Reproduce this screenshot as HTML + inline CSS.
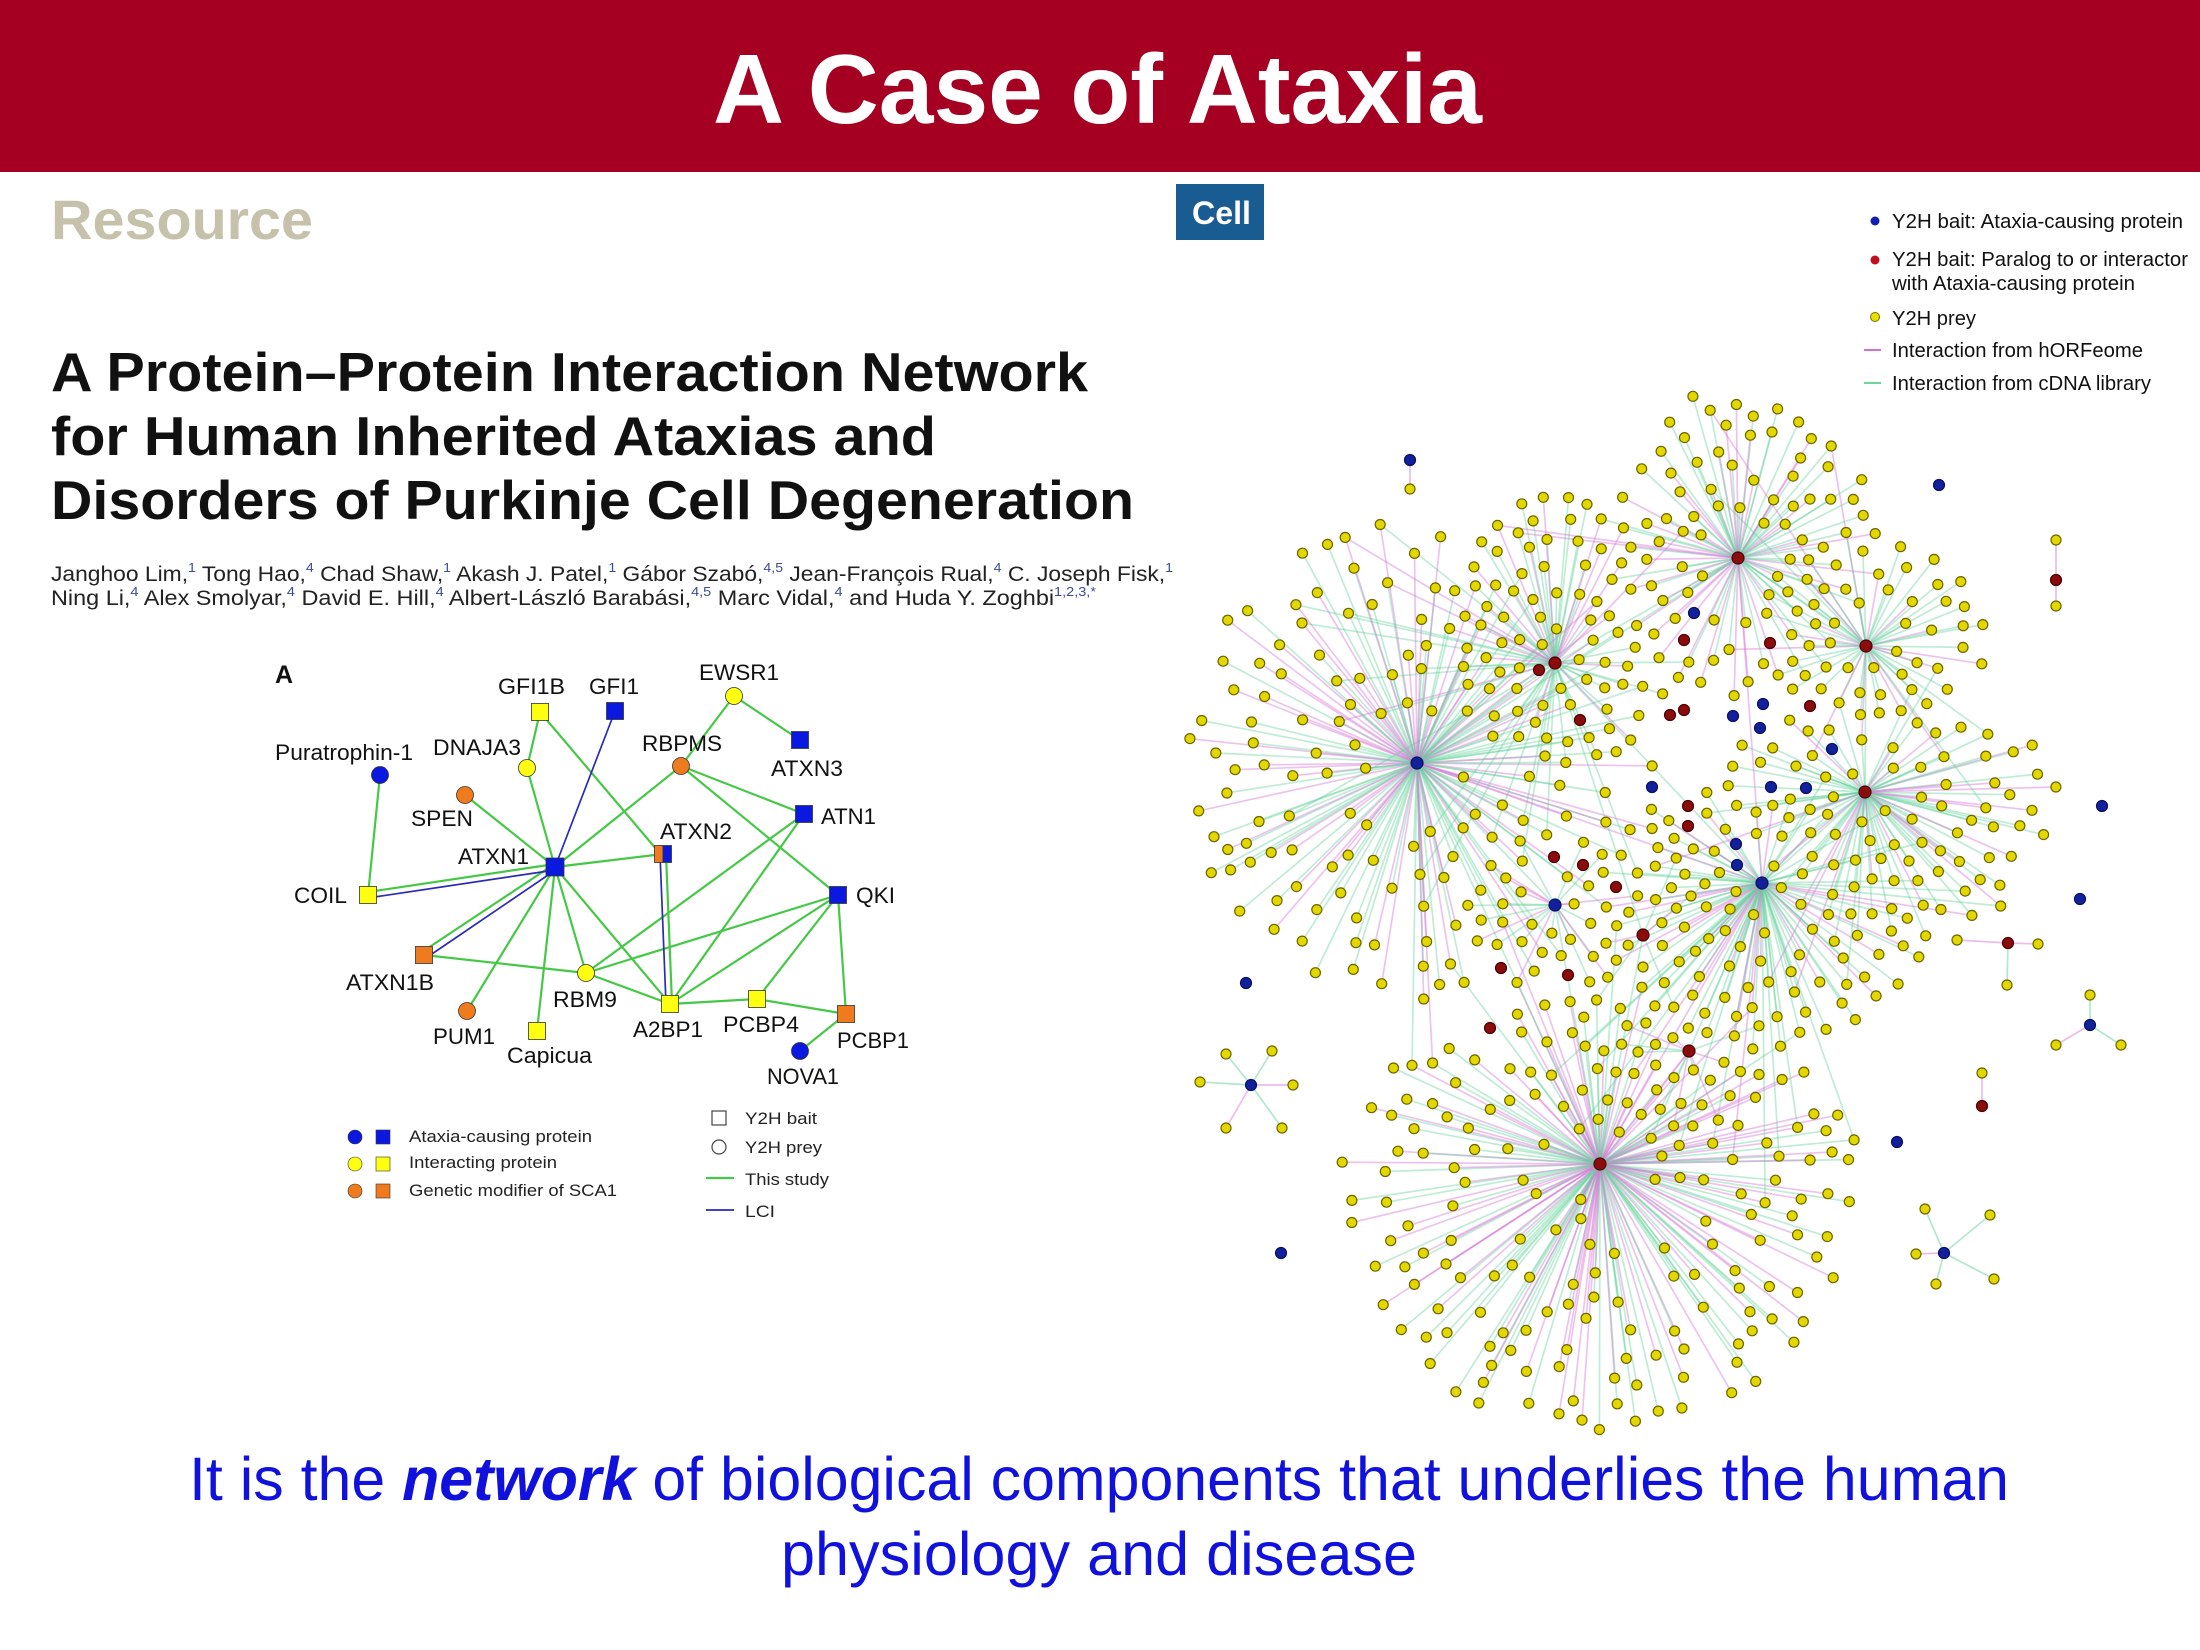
<!DOCTYPE html>
<html>
<head>
<meta charset="utf-8">
<style>
html,body{margin:0;padding:0;background:#fff;}
body{width:2200px;height:1650px;overflow:hidden;}
svg{display:block;}
text{font-family:"Liberation Sans",Arial,sans-serif;}
</style>
</head>
<body>
<svg id="main" width="2200" height="1650" viewBox="0 0 2200 1650" xmlns="http://www.w3.org/2000/svg">
  <rect x="0" y="0" width="2200" height="1650" fill="#ffffff"/>
  <!-- Header -->
  <rect x="0" y="0" width="2200" height="172" fill="#a50021"/>
  <text x="713" y="123" font-size="98" font-weight="bold" fill="#ffffff" textLength="769" lengthAdjust="spacingAndGlyphs">A Case of Ataxia</text>

  <!-- Paper header -->
  <text x="51" y="239" font-size="56" font-weight="bold" fill="#c6c1aa" textLength="262" lengthAdjust="spacingAndGlyphs">Resource</text>
  <rect x="1176" y="184" width="88" height="56" fill="#185c92"/>
  <text x="1192" y="224" font-size="32" font-weight="bold" fill="#ffffff" textLength="59" lengthAdjust="spacingAndGlyphs">Cell</text>

  <text x="51" y="391" font-size="55" font-weight="bold" fill="#111" textLength="1037" lengthAdjust="spacingAndGlyphs">A Protein–Protein Interaction Network</text>
  <text x="51" y="455" font-size="55" font-weight="bold" fill="#111" textLength="885" lengthAdjust="spacingAndGlyphs">for Human Inherited Ataxias and</text>
  <text x="51" y="519" font-size="55" font-weight="bold" fill="#111" textLength="1083" lengthAdjust="spacingAndGlyphs">Disorders of Purkinje Cell Degeneration</text>

  <text x="51" y="581" font-size="21" fill="#222" textLength="1122" lengthAdjust="spacingAndGlyphs">Janghoo Lim,<tspan dy="-9" font-size="13" fill="#3b4a9a">1</tspan><tspan dy="9"> Tong Hao,</tspan><tspan dy="-9" font-size="13" fill="#3b4a9a">4</tspan><tspan dy="9"> Chad Shaw,</tspan><tspan dy="-9" font-size="13" fill="#3b4a9a">1</tspan><tspan dy="9"> Akash J. Patel,</tspan><tspan dy="-9" font-size="13" fill="#3b4a9a">1</tspan><tspan dy="9"> Gábor Szabó,</tspan><tspan dy="-9" font-size="13" fill="#3b4a9a">4,5</tspan><tspan dy="9"> Jean-François Rual,</tspan><tspan dy="-9" font-size="13" fill="#3b4a9a">4</tspan><tspan dy="9"> C. Joseph Fisk,</tspan><tspan dy="-9" font-size="13" fill="#3b4a9a">1</tspan></text>
  <text x="51" y="605" font-size="21" fill="#222" textLength="1045" lengthAdjust="spacingAndGlyphs">Ning Li,<tspan dy="-9" font-size="13" fill="#3b4a9a">4</tspan><tspan dy="9"> Alex Smolyar,</tspan><tspan dy="-9" font-size="13" fill="#3b4a9a">4</tspan><tspan dy="9"> David E. Hill,</tspan><tspan dy="-9" font-size="13" fill="#3b4a9a">4</tspan><tspan dy="9"> Albert-László Barabási,</tspan><tspan dy="-9" font-size="13" fill="#3b4a9a">4,5</tspan><tspan dy="9"> Marc Vidal,</tspan><tspan dy="-9" font-size="13" fill="#3b4a9a">4</tspan><tspan dy="9"> and Huda Y. Zoghbi</tspan><tspan dy="-9" font-size="13" fill="#3b4a9a">1,2,3,*</tspan></text>

  <!-- Figure A -->
  <text x="275" y="683" font-size="25" font-weight="bold" fill="#111">A</text>
  <g stroke="#45c845" stroke-width="2.2" fill="none" stroke-linecap="round">
    <line x1="380" y1="775" x2="368" y2="895"/>
    <line x1="540" y1="712" x2="527" y2="768"/>
    <line x1="527" y1="768" x2="555" y2="867"/>
    <line x1="540" y1="712" x2="657" y2="850"/>
    <line x1="734" y1="696" x2="681" y2="766"/>
    <line x1="734" y1="696" x2="800" y2="740"/>
    <line x1="681" y1="766" x2="555" y2="867"/>
    <line x1="681" y1="766" x2="804" y2="814"/>
    <line x1="681" y1="766" x2="838" y2="895"/>
    <line x1="465" y1="795" x2="555" y2="867"/>
    <line x1="555" y1="867" x2="663" y2="854"/>
    <line x1="555" y1="864" x2="368" y2="892"/>
    <line x1="553" y1="865" x2="422" y2="952"/>
    <line x1="555" y1="867" x2="467" y2="1011"/>
    <line x1="555" y1="867" x2="537" y2="1031"/>
    <line x1="555" y1="867" x2="586" y2="973"/>
    <line x1="555" y1="867" x2="670" y2="1004"/>
    <line x1="666" y1="854" x2="672" y2="1004"/>
    <line x1="804" y1="814" x2="586" y2="973"/>
    <line x1="804" y1="814" x2="670" y2="1004"/>
    <line x1="838" y1="895" x2="586" y2="973"/>
    <line x1="838" y1="895" x2="670" y2="1004"/>
    <line x1="838" y1="895" x2="757" y2="999"/>
    <line x1="838" y1="895" x2="846" y2="1014"/>
    <line x1="424" y1="955" x2="586" y2="973"/>
    <line x1="586" y1="973" x2="670" y2="1004"/>
    <line x1="670" y1="1004" x2="757" y2="999"/>
    <line x1="757" y1="999" x2="846" y2="1014"/>
    <line x1="846" y1="1014" x2="800" y2="1051"/>
  </g>
  <g stroke="#2a2ab8" stroke-width="1.7" fill="none">
    <line x1="615" y1="711" x2="555" y2="867"/>
    <line x1="555" y1="870" x2="368" y2="898"/>
    <line x1="557" y1="869" x2="426" y2="958"/>
    <line x1="660" y1="854" x2="666" y2="1004"/>
  </g>
  <g stroke="#333" stroke-width="0.8">
    <circle cx="380" cy="775" r="8.5" fill="#0b19e0"/>
    <circle cx="734" cy="696" r="8.5" fill="#ffff10"/>
    <circle cx="527" cy="768" r="8.5" fill="#ffff10"/>
    <circle cx="681" cy="766" r="8.5" fill="#f07a1e"/>
    <circle cx="465" cy="795" r="8.5" fill="#f07a1e"/>
    <circle cx="586" cy="973" r="8.5" fill="#ffff10"/>
    <circle cx="467" cy="1011" r="8.5" fill="#f07a1e"/>
    <circle cx="800" cy="1051" r="8.5" fill="#0b19e0"/>
    <rect x="531.5" y="703.5" width="17" height="17" fill="#ffff10"/>
    <rect x="606.5" y="702.5" width="17" height="17" fill="#0b19e0"/>
    <rect x="791.5" y="731.5" width="17" height="17" fill="#0b19e0"/>
    <rect x="795.5" y="805.5" width="17" height="17" fill="#0b19e0"/>
    <rect x="654.5" y="845.5" width="8.5" height="17" fill="#f07a1e"/>
    <rect x="663" y="845.5" width="8.5" height="17" fill="#0b19e0"/>
    <rect x="546" y="858" width="18" height="18" fill="#0b19e0"/>
    <rect x="359.5" y="886.5" width="17" height="17" fill="#ffff10"/>
    <rect x="829.5" y="886.5" width="17" height="17" fill="#0b19e0"/>
    <rect x="415.5" y="946.5" width="17" height="17" fill="#f07a1e"/>
    <rect x="661.5" y="995.5" width="17" height="17" fill="#ffff10"/>
    <rect x="748.5" y="990.5" width="17" height="17" fill="#ffff10"/>
    <rect x="837.5" y="1005.5" width="17" height="17" fill="#f07a1e"/>
    <rect x="528.5" y="1022.5" width="17" height="17" fill="#ffff10"/>
  </g>
  <g font-size="22" fill="#111">
    <text x="498" y="694" textLength="67" lengthAdjust="spacingAndGlyphs">GFI1B</text>
    <text x="589" y="694" textLength="50" lengthAdjust="spacingAndGlyphs">GFI1</text>
    <text x="699" y="680" textLength="80" lengthAdjust="spacingAndGlyphs">EWSR1</text>
    <text x="275" y="760" textLength="138" lengthAdjust="spacingAndGlyphs">Puratrophin-1</text>
    <text x="433" y="755" textLength="88" lengthAdjust="spacingAndGlyphs">DNAJA3</text>
    <text x="642" y="751" textLength="80" lengthAdjust="spacingAndGlyphs">RBPMS</text>
    <text x="771" y="776" textLength="72" lengthAdjust="spacingAndGlyphs">ATXN3</text>
    <text x="411" y="826" textLength="62" lengthAdjust="spacingAndGlyphs">SPEN</text>
    <text x="821" y="824" textLength="55" lengthAdjust="spacingAndGlyphs">ATN1</text>
    <text x="660" y="839" textLength="72" lengthAdjust="spacingAndGlyphs">ATXN2</text>
    <text x="458" y="864" textLength="71" lengthAdjust="spacingAndGlyphs">ATXN1</text>
    <text x="294" y="903" textLength="53" lengthAdjust="spacingAndGlyphs">COIL</text>
    <text x="856" y="903" textLength="39" lengthAdjust="spacingAndGlyphs">QKI</text>
    <text x="346" y="990" textLength="88" lengthAdjust="spacingAndGlyphs">ATXN1B</text>
    <text x="553" y="1007" textLength="64" lengthAdjust="spacingAndGlyphs">RBM9</text>
    <text x="433" y="1044" textLength="62" lengthAdjust="spacingAndGlyphs">PUM1</text>
    <text x="507" y="1063" textLength="85" lengthAdjust="spacingAndGlyphs">Capicua</text>
    <text x="633" y="1037" textLength="70" lengthAdjust="spacingAndGlyphs">A2BP1</text>
    <text x="723" y="1032" textLength="76" lengthAdjust="spacingAndGlyphs">PCBP4</text>
    <text x="837" y="1048" textLength="72" lengthAdjust="spacingAndGlyphs">PCBP1</text>
    <text x="767" y="1084" textLength="72" lengthAdjust="spacingAndGlyphs">NOVA1</text>
  </g>
  <!-- Figure A legend -->
  <g stroke="#333" stroke-width="0.6">
    <circle cx="355" cy="1137" r="7" fill="#0b19e0"/>
    <rect x="376" y="1130" width="14" height="14" fill="#0b19e0"/>
    <circle cx="355" cy="1164" r="7" fill="#ffff10"/>
    <rect x="376" y="1157" width="14" height="14" fill="#ffff10"/>
    <circle cx="355" cy="1191" r="7" fill="#f07a1e"/>
    <rect x="376" y="1184" width="14" height="14" fill="#f07a1e"/>
  </g>
  <g font-size="17" fill="#222">
    <text x="409" y="1142" textLength="183" lengthAdjust="spacingAndGlyphs">Ataxia-causing protein</text>
    <text x="409" y="1168" textLength="148" lengthAdjust="spacingAndGlyphs">Interacting protein</text>
    <text x="409" y="1196" textLength="208" lengthAdjust="spacingAndGlyphs">Genetic modifier of SCA1</text>
    <text x="745" y="1124" textLength="72" lengthAdjust="spacingAndGlyphs">Y2H bait</text>
    <text x="745" y="1153" textLength="77" lengthAdjust="spacingAndGlyphs">Y2H prey</text>
    <text x="745" y="1185" textLength="84" lengthAdjust="spacingAndGlyphs">This study</text>
    <text x="745" y="1217" textLength="30" lengthAdjust="spacingAndGlyphs">LCI</text>
  </g>
  <rect x="712" y="1111" width="14" height="14" fill="none" stroke="#444" stroke-width="1.2"/>
  <circle cx="719" cy="1147" r="7" fill="none" stroke="#444" stroke-width="1.2"/>
  <line x1="706" y1="1178" x2="734" y2="1178" stroke="#45c845" stroke-width="2.2"/>
  <line x1="706" y1="1210" x2="734" y2="1210" stroke="#2a2ab8" stroke-width="1.7"/>

  <!-- Right legend -->
  <circle cx="1875" cy="221" r="4.5" fill="#1020b0"/>
  <circle cx="1875" cy="260" r="4.5" fill="#c01020"/>
  <circle cx="1875" cy="317" r="4.5" fill="#e8e000" stroke="#7a6e00" stroke-width="1"/>
  <line x1="1864" y1="350" x2="1881" y2="350" stroke="#d070d8" stroke-width="2"/>
  <line x1="1864" y1="383" x2="1881" y2="383" stroke="#6fd69a" stroke-width="2"/>
  <g font-size="20" fill="#111">
    <text x="1892" y="228" textLength="291" lengthAdjust="spacingAndGlyphs">Y2H bait: Ataxia-causing protein</text>
    <text x="1892" y="266" textLength="296" lengthAdjust="spacingAndGlyphs">Y2H bait: Paralog to or interactor</text>
    <text x="1892" y="290" textLength="243" lengthAdjust="spacingAndGlyphs">with Ataxia-causing protein</text>
    <text x="1892" y="325" textLength="84" lengthAdjust="spacingAndGlyphs">Y2H prey</text>
    <text x="1892" y="357" textLength="251" lengthAdjust="spacingAndGlyphs">Interaction from hORFeome</text>
    <text x="1892" y="390" textLength="259" lengthAdjust="spacingAndGlyphs">Interaction from cDNA library</text>
  </g>

  <!-- Big network -->
  <g id="netEdges" fill="none" stroke-width="1.7" stroke-linecap="round"></g>
  <g id="staticNet">
    <g fill="none" stroke-width="1.7" stroke-opacity="0.5">
      <line x1="1410" y1="460" x2="1410" y2="489" stroke="#d77ad7"/>
      <line x1="2056" y1="580" x2="2056" y2="540" stroke="#d77ad7"/>
      <line x1="2056" y1="580" x2="2056" y2="606" stroke="#d77ad7"/>
      <line x1="2008" y1="943" x2="2038" y2="944" stroke="#d77ad7"/>
      <line x1="2008" y1="943" x2="2007" y2="985" stroke="#63d19a"/>
      <line x1="2008" y1="943" x2="1957" y2="940" stroke="#d77ad7"/>
      <line x1="2090" y1="1025" x2="2090" y2="995" stroke="#63d19a"/>
      <line x1="2090" y1="1025" x2="2056" y2="1045" stroke="#d77ad7"/>
      <line x1="2090" y1="1025" x2="2121" y2="1045" stroke="#63d19a"/>
      <line x1="1982" y1="1106" x2="1982" y2="1073" stroke="#d77ad7"/>
      <line x1="1251" y1="1085" x2="1226" y2="1054" stroke="#63d19a"/>
      <line x1="1251" y1="1085" x2="1272" y2="1051" stroke="#63d19a"/>
      <line x1="1251" y1="1085" x2="1200" y2="1082" stroke="#63d19a"/>
      <line x1="1251" y1="1085" x2="1293" y2="1085" stroke="#d77ad7"/>
      <line x1="1251" y1="1085" x2="1226" y2="1128" stroke="#d77ad7"/>
      <line x1="1251" y1="1085" x2="1282" y2="1128" stroke="#63d19a"/>
      <line x1="1944" y1="1253" x2="1925" y2="1209" stroke="#63d19a"/>
      <line x1="1944" y1="1253" x2="1990" y2="1215" stroke="#63d19a"/>
      <line x1="1944" y1="1253" x2="1916" y2="1254" stroke="#d77ad7"/>
      <line x1="1944" y1="1253" x2="1936" y2="1284" stroke="#63d19a"/>
      <line x1="1944" y1="1253" x2="1994" y2="1279" stroke="#63d19a"/>
    </g>
  </g>
  <g id="netNodes"></g>
  <g id="staticNodes" stroke-width="1.2">
    <g fill="#e2d800" stroke="#6e6400">
      <circle cx="1410" cy="489" r="5"/>
      <circle cx="2056" cy="540" r="5"/><circle cx="2056" cy="606" r="5"/>
      <circle cx="2038" cy="944" r="5"/><circle cx="2007" cy="985" r="5"/><circle cx="1957" cy="940" r="5"/>
      <circle cx="2090" cy="995" r="5"/><circle cx="2056" cy="1045" r="5"/><circle cx="2121" cy="1045" r="5"/>
      <circle cx="1982" cy="1073" r="5"/>
      <circle cx="1226" cy="1054" r="5"/><circle cx="1272" cy="1051" r="5"/><circle cx="1200" cy="1082" r="5"/>
      <circle cx="1293" cy="1085" r="5"/><circle cx="1226" cy="1128" r="5"/><circle cx="1282" cy="1128" r="5"/>
      <circle cx="1925" cy="1209" r="5"/><circle cx="1990" cy="1215" r="5"/><circle cx="1916" cy="1254" r="5"/>
      <circle cx="1936" cy="1284" r="5"/><circle cx="1994" cy="1279" r="5"/>
    </g>
    <g fill="#12209c" stroke="#0a1060">
      <circle cx="1410" cy="460" r="5.5"/><circle cx="1939" cy="485" r="5.5"/>
      <circle cx="2102" cy="806" r="5.5"/><circle cx="2080" cy="899" r="5.5"/>
      <circle cx="2090" cy="1025" r="5.5"/><circle cx="1897" cy="1142" r="5.5"/>
      <circle cx="1246" cy="983" r="5.5"/><circle cx="1251" cy="1085" r="5.5"/>
      <circle cx="1281" cy="1253" r="5.5"/><circle cx="1944" cy="1253" r="5.5"/>
      <circle cx="1694" cy="613" r="5.5"/><circle cx="1763" cy="704" r="5.5"/>
      <circle cx="1733" cy="716" r="5.5"/><circle cx="1760" cy="728" r="5.5"/>
      <circle cx="1832" cy="749" r="5.5"/><circle cx="1652" cy="787" r="5.5"/>
      <circle cx="1771" cy="787" r="5.5"/><circle cx="1806" cy="788" r="5.5"/>
      <circle cx="1736" cy="844" r="5.5"/><circle cx="1737" cy="865" r="5.5"/>
      <circle cx="1417" cy="763" r="6"/><circle cx="1762" cy="883" r="6"/><circle cx="1555" cy="905" r="6"/>
    </g>
    <g fill="#8a0c0c" stroke="#4a0404">
      <circle cx="2056" cy="580" r="5.5"/><circle cx="2008" cy="943" r="5.5"/><circle cx="1982" cy="1106" r="5.5"/>
      <circle cx="1684" cy="640" r="5.5"/><circle cx="1770" cy="643" r="5.5"/>
      <circle cx="1670" cy="715" r="5.5"/><circle cx="1684" cy="710" r="5.5"/>
      <circle cx="1810" cy="706" r="5.5"/><circle cx="1580" cy="720" r="5.5"/>
      <circle cx="1688" cy="806" r="5.5"/><circle cx="1688" cy="826" r="5.5"/>
      <circle cx="1554" cy="857" r="5.5"/><circle cx="1583" cy="865" r="5.5"/>
      <circle cx="1616" cy="887" r="5.5"/><circle cx="1501" cy="968" r="5.5"/>
      <circle cx="1568" cy="975" r="5.5"/><circle cx="1490" cy="1028" r="5.5"/>
      <circle cx="1539" cy="670" r="5.5"/>
      <circle cx="1738" cy="558" r="6"/><circle cx="1555" cy="663" r="6"/>
      <circle cx="1866" cy="646" r="6"/><circle cx="1865" cy="792" r="6"/>
      <circle cx="1600" cy="1164" r="6"/><circle cx="1643" cy="935" r="6"/><circle cx="1689" cy="1051" r="6"/>
    </g>
  </g>

  <!-- Bottom text -->
  <text x="189" y="1500" font-size="61" fill="#1111dd" textLength="1820" lengthAdjust="spacingAndGlyphs">It is the <tspan font-weight="bold" font-style="italic">network</tspan> of biological components that underlies the human</text>
  <text x="781" y="1575" font-size="61" fill="#1111dd" textLength="636" lengthAdjust="spacingAndGlyphs">physiology and disease</text>
</svg>
<script>
(function(){
  function rng(seed){return function(){seed|=0;seed=seed+0x6D2B79F5|0;var t=Math.imul(seed^seed>>>15,1|seed);t=t+Math.imul(t^t>>>7,61|t)^t;return((t^t>>>14)>>>0)/4294967296;};}
  var R=rng(20240611);
  // x, y, n, rxL, rxR, ryU, ryD, pinkProb
  var hubs=[
    [1417,763,150,234,245,245,240,0.38],
    [1738,558,85,128,142,175,140,0.42],
    [1555,663,55,105,120,170,100,0.25],
    [1866,646,45,116,124,116,74,0.25],
    [1865,792,80,145,197,92,158,0.2],
    [1762,883,85,165,178,103,167,0.3],
    [1600,1164,180,260,258,165,274,0.55],
    [1555,905,25,90,90,90,90,0.4],
    [1643,935,25,90,90,90,90,0.3],
    [1689,1051,15,80,80,80,80,0.4]
  ];
  var existing=[];
  hubs.forEach(function(h){existing.push([h[0],h[1]]);});
  var fixed=[[1410,460],[1410,489],[1939,485],[2056,540],[2056,580],[2056,606],[2102,806],[2080,899],[2008,943],[2038,944],[2007,985],[1957,940],
    [1694,613],[1763,704],[1733,716],[1760,728],[1832,749],[1652,787],[1771,787],[1806,788],[1736,844],[1737,865],
    [1684,640],[1770,643],[1670,715],[1684,710],[1810,706],[1580,720],[1688,806],[1688,826],[1554,857],[1583,865],[1616,887],[1501,968],[1568,975],[1490,1028],[1539,670]];
  fixed.forEach(function(p){existing.push(p);});
  var E=[],N=[];
  var G='#63d19a',P='#d77ad7';
  var minD=18, minD2=minD*minD;
  function ok(x,y){
    for(var i=0;i<existing.length;i++){var dx=existing[i][0]-x,dy=existing[i][1]-y;if(dx*dx+dy*dy<minD2)return false;}
    return true;
  }
  hubs.forEach(function(h){
    for(var i=0;i<h[2];i++){
      var placed=false,x,y;
      for(var t=0;t<40&&!placed;t++){
        var a=R()*Math.PI*2;
        var r=0.13+0.87*Math.sqrt(R());
        var dx=Math.cos(a),dy=Math.sin(a);
        x=h[0]+dx*r*(dx<0?h[3]:h[4]);
        y=h[1]+dy*r*(dy<0?h[5]:h[6]);
        if(x>1850&&y<405) continue;
        if(ok(x,y)) placed=true;
      }
      if(!placed) continue;
      existing.push([x,y]);
      N.push([x,y]);
      E.push([h[0],h[1],x,y,R()<h[7]?P:G]);
      if(R()<0.14){
        var best=null,bd=1e9;
        for(var k=0;k<7;k++){
          var hh=hubs[k]; if(hh===h) continue;
          var d=Math.hypot(hh[0]-x,hh[1]-y);
          if(d<bd && d<330){bd=d;best=hh;}
        }
        if(best) E.push([best[0],best[1],x,y,R()<0.4?P:G]);
      }
    }
  });
  var hh=[[0,2],[0,5],[2,5],[1,5],[5,6],[0,6],[4,5],[2,8],[7,6],[3,1],[1,2],[0,7],[8,6],[9,6],[3,4]];
  hh.forEach(function(p){var a=hubs[p[0]],b=hubs[p[1]];E.push([a[0],a[1],b[0],b[1],R()<0.5?P:G]);});
  var se='';
  E.forEach(function(e){
    se+='<line x1="'+e[0].toFixed(1)+'" y1="'+e[1].toFixed(1)+'" x2="'+e[2].toFixed(1)+'" y2="'+e[3].toFixed(1)+'" stroke="'+e[4]+'" stroke-opacity="'+(e[4]===P?'0.45':'0.42')+'"/>';
  });
  var sn='';
  N.forEach(function(n){
    sn+='<circle cx="'+n[0].toFixed(1)+'" cy="'+n[1].toFixed(1)+'" r="5" fill="#e2d800" stroke="#6e6400" stroke-width="1.2"/>';
  });
  document.getElementById('netEdges').innerHTML=se;
  document.getElementById('netNodes').innerHTML=sn;
})();
</script>
</body>
</html>
